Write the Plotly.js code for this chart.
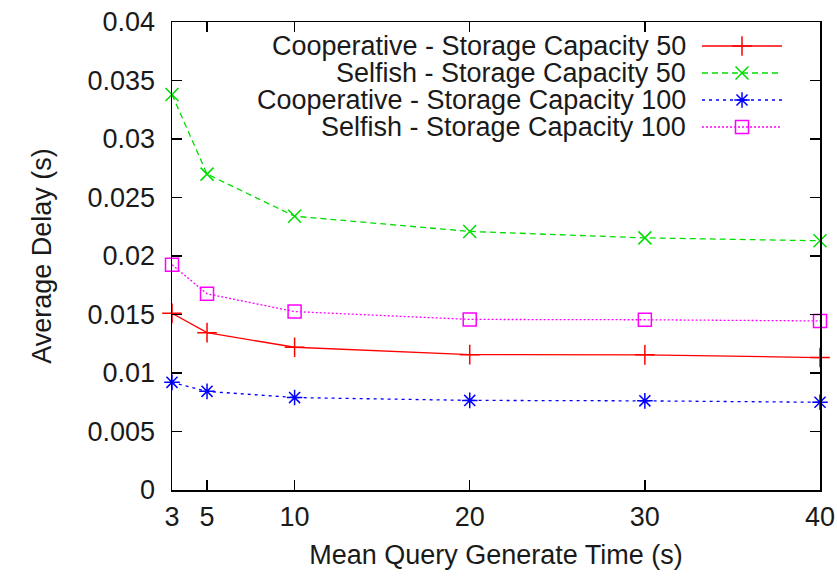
<!DOCTYPE html>
<html><head><meta charset="utf-8">
<script src="https://cdn.plot.ly/plotly-3.0.1.min.js"></script>
<style>html,body{margin:0;padding:0;background:#fff}#chart{width:837px;height:577px}</style>
</head><body><div id="chart"></div>
<script>
const queryTime = [3, 5, 10, 20, 30, 40];
const coop50 = [0.0151, 0.01345, 0.0122, 0.01157, 0.01155, 0.01132];
const selfish50 = [0.0338, 0.0270, 0.0234, 0.0221, 0.02155, 0.0213];
const coop100 = [0.0092, 0.00843, 0.0079, 0.00766, 0.00762, 0.0075];
const selfish100 = [0.01925, 0.01677, 0.01525, 0.01458, 0.01455, 0.01445];
const seriesNames = ["Cooperative - Storage Capacity 50", "Selfish - Storage Capacity 50",
  "Cooperative - Storage Capacity 100", "Selfish - Storage Capacity 100"];
const xTicks = [3, 5, 10, 20, 30, 40];
const yTicks = [0, 0.005, 0.01, 0.015, 0.02, 0.025, 0.03, 0.035, 0.04];
const yTickText = ["0", "0.005", "0.01", "0.015", "0.02", "0.025", "0.03", "0.035", "0.04"];

const styles = [
  {color: "#ff0000", dash: "solid", symbol: "cross-thin-open", size: 14, width: 1.3},
  {color: "#00dd00", dash: "6px,4px", symbol: "x-thin-open", size: 13, width: 1.3},
  {color: "#0000ff", dash: "3px,4px", symbol: "asterisk-open", size: 13, width: 1.3},
  {color: "#ff00ff", dash: "2px,2px", symbol: "square-open", size: 13, width: 1.3}
];
const ys = [coop50, selfish50, coop100, selfish100];

const traces = ys.map((y, i) => ({
  x: queryTime, y: y, type: "scatter", mode: "lines+markers", name: seriesNames[i],
  line: {color: styles[i].color, dash: styles[i].dash, width: styles[i].width},
  marker: {symbol: styles[i].symbol, size: styles[i].size, color: styles[i].color,
           line: {color: styles[i].color, width: 1.5}},
  showlegend: false, cliponaxis: false
}));

// legend samples on an overlay axis (pixel-like coordinates)
const legendRows = [46, 73, 100, 127];
const annotations = [];
const font = {family: "Liberation Sans, Arial, sans-serif", size: 27, color: "#1a1a1a"};
seriesNames.forEach((n, i) => {
  traces.push({
    x: [702, 782], y: [legendRows[i], legendRows[i]], xaxis: "x2", yaxis: "y2",
    type: "scatter", mode: "lines", showlegend: false, hoverinfo: "skip",
    line: {color: styles[i].color, dash: styles[i].dash, width: styles[i].width}
  });
  traces.push({
    x: [742], y: [legendRows[i]], xaxis: "x2", yaxis: "y2",
    type: "scatter", mode: "markers", showlegend: false, hoverinfo: "skip",
    marker: {symbol: styles[i].symbol, size: styles[i].size, color: styles[i].color,
             line: {color: styles[i].color, width: 1.5}}
  });
  annotations.push({
    xref: "x2", yref: "y2", x: 688, y: legendRows[i], text: n, showarrow: false,
    xanchor: "right", yanchor: "middle", font: font
  });
});

const layout = {
  width: 837, height: 577,
  margin: {l: 172, r: 17, t: 22, b: 87},
  paper_bgcolor: "#fff", plot_bgcolor: "#fff",
  font: font,
  showlegend: false,
  xaxis: {
    range: [3, 40], tickvals: xTicks, ticktext: xTicks.map(String),
    ticks: "inside", ticklen: 10, tickwidth: 1.5, tickcolor: "#000",
    showline: true, linecolor: "#000", linewidth: 1.5, mirror: "allticks",
    showgrid: false, zeroline: false, tickfont: font, ticklabelstandoff: 2,
    title: {text: "Mean Query Generate Time (s)", font: font, standoff: 14}
  },
  yaxis: {
    range: [0, 0.04], tickvals: yTicks, ticktext: yTickText,
    ticks: "inside", ticklen: 10, tickwidth: 1.5, tickcolor: "#000",
    showline: true, linecolor: "#000", linewidth: 1.5, mirror: "allticks",
    showgrid: false, zeroline: false, tickfont: font, ticklabelstandoff: 10,
    title: {text: "Average Delay (s)", font: font, standoff: 28}
  },
  xaxis2: {domain: [0, 1], range: [172, 820], overlaying: "x", anchor: "y2", visible: false, fixedrange: true},
  yaxis2: {domain: [0, 1], range: [490, 22], overlaying: "y", anchor: "x2", visible: false, fixedrange: true},
  annotations: annotations
};
Plotly.newPlot("chart", traces, layout, {displayModeBar: false, staticPlot: true});
</script>
</body></html>
